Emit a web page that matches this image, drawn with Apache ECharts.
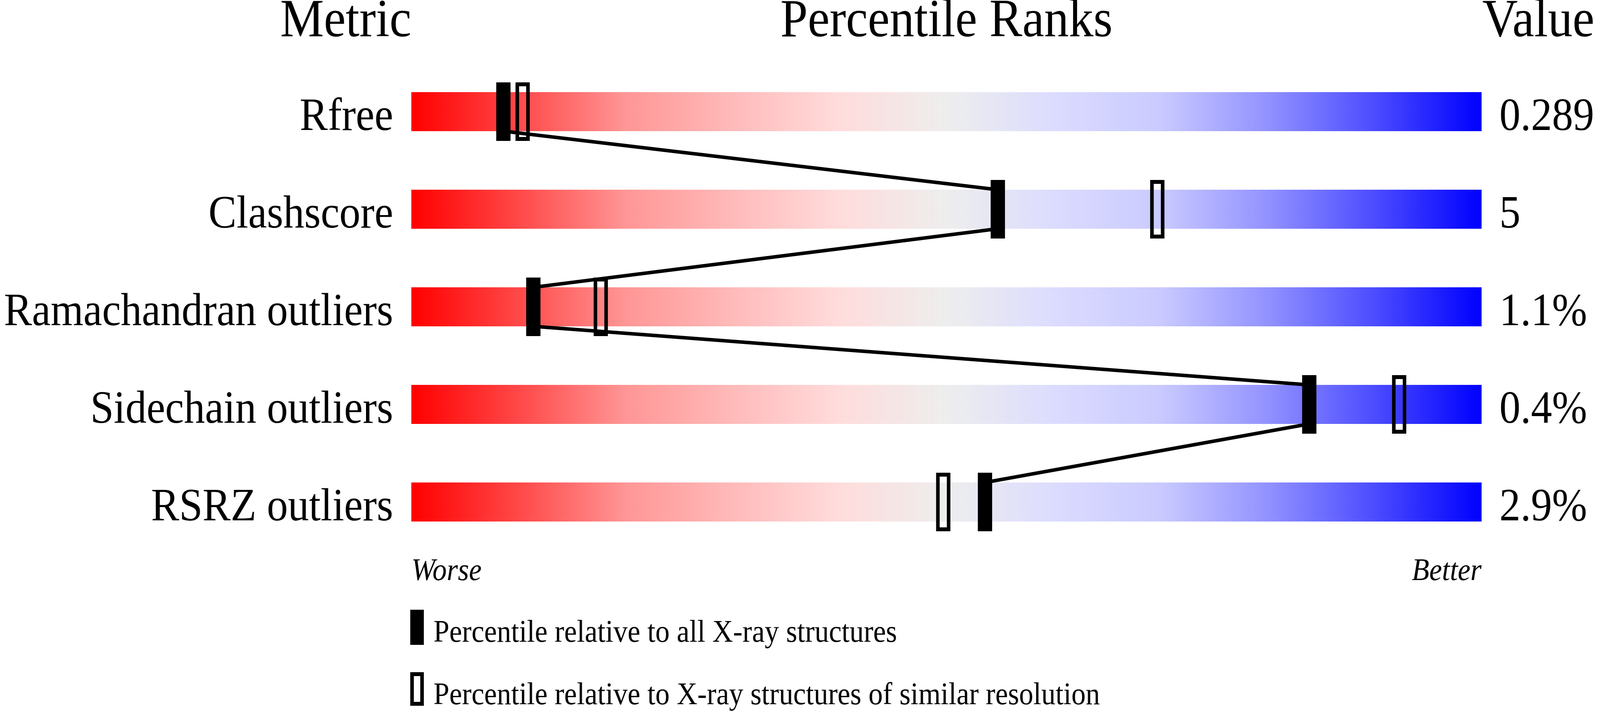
<!DOCTYPE html>
<html>
<head>
<meta charset="utf-8">
<title>Percentile Ranks</title>
<script src="https://cdn.jsdelivr.net/npm/echarts@6/dist/echarts.min.js"></script>
<style>
    html, body { margin: 0; padding: 0; background: #fff; overflow: hidden; }
    #chart { width: 4485px; height: 1824px; transform-origin: 0 0; }
</style>
</head>
<body>
<div id="chart"></div>
<script>
// 指标名称与右侧数值
const metrics = ['Rfree', 'Clashscore', 'Ramachandran outliers', 'Sidechain outliers', 'RSRZ outliers'];
const metricValues = ['0.289', '5', '1.1%', '0.4%', '2.9%'];

// 百分位：相对所有 X-ray 结构（实心）和相近分辨率结构（空心）
const pctAll = [8.6, 54.8, 11.4, 83.9, 53.6];
const pctSimilar = [10.4, 69.7, 17.7, 92.3, 49.7];

// 色带满刻度
const fullScale = [100, 100, 100, 100, 100];

const FONT = "'Liberation Serif', 'Times New Roman', serif";

// 按 4485x1824 布局，再整体缩放到实际窗口
const container = document.getElementById('chart');
function fitWindow() {
    const kx = window.innerWidth / 4485;
    const ky = window.innerHeight / 1824;
    container.style.transform = 'scale(' + kx + ',' + ky + ')';
}
fitWindow();

const chart = echarts.init(container, null, { width: 4485, height: 1824 });

// 色带渐变（红 -> 灰 -> 蓝）
const gradient = new echarts.graphic.LinearGradient(0, 0, 1, 0, [
    { offset: 0.0, color: '#ff0000' },
    { offset: 0.1, color: '#ff4848' },
    { offset: 0.2, color: '#ff9696' },
    { offset: 0.3, color: '#ffbaba' },
    { offset: 0.4, color: '#ffdcdc' },
    { offset: 0.5, color: '#eeeeee' },
    { offset: 0.6, color: '#dcdcff' },
    { offset: 0.7, color: '#cacaff' },
    { offset: 0.8, color: '#9292ff' },
    { offset: 0.9, color: '#4c4cff' },
    { offset: 1.0, color: '#0000ff' }
]);

// 标记：实心或空心矩形
function markerRenderer(filled) {
    return function (params, api) {
        const p = api.coord([api.value(0), api.value(1)]);
        const band = api.size([0, 1])[1];
        const h = band * 0.6;
        const w = 40;
        if (filled) {
            return {
                type: 'rect',
                shape: { x: p[0] - w / 2, y: p[1] - h / 2, width: w, height: h },
                style: { fill: '#000' }
            };
        }
        return {
            type: 'rect',
            shape: { x: p[0] - w / 2 + 5, y: p[1] - h / 2 + 5, width: w - 10, height: h - 10 },
            style: { fill: 'none', stroke: '#000', lineWidth: 10 }
        };
    };
}

// 连线：从上一行色带底边到下一行色带顶边
function linkRenderer(params, api) {
    const band = api.size([0, 1])[1];
    const half = band * 0.2;
    const a = api.coord([api.value(0), api.value(1)]);
    const b = api.coord([api.value(2), api.value(3)]);
    return {
        type: 'line',
        shape: { x1: a[0], y1: a[1] + half, x2: b[0], y2: b[1] - half },
        style: { stroke: '#000', lineWidth: 9 }
    };
}

const linkData = [];
for (let i = 0; i < metrics.length - 1; i++) {
    linkData.push([pctAll[i], i, pctAll[i + 1], i + 1]);
}

// 轴标签：用富文本上内边距把文字压到色带底边
function axisLabelStyle(margin) {
    return {
        margin: margin,
        verticalAlign: 'middle',
        formatter: v => '{t|' + v + '}',
        rich: {
            t: {
                fontFamily: FONT,
                fontSize: 118,
                color: '#000',
                padding: [32, 0, 0, 0]
            }
        }
    };
}

function textEl(text, x, y, size, align, italic) {
    return {
        type: 'text',
        x: x,
        y: y,
        style: {
            text: text,
            font: (italic ? 'italic ' : '') + size + 'px ' + FONT,
            fill: '#000',
            textAlign: align,
            textVerticalAlign: 'middle'
        }
    };
}

const option = {
    animation: false,
    backgroundColor: '#fff',
    grid: { left: 1153, right: 332, top: 161, bottom: 413 },
    xAxis: { type: 'value', min: 0, max: 100, show: false },
    yAxis: [
        {
            type: 'category',
            data: metrics,
            inverse: true,
            axisLine: { show: false },
            axisTick: { show: false },
            splitLine: { show: false },
            axisLabel: axisLabelStyle(51)
        },
        {
            type: 'category',
            data: metricValues,
            inverse: true,
            position: 'right',
            axisLine: { show: false },
            axisTick: { show: false },
            splitLine: { show: false },
            axisLabel: axisLabelStyle(50)
        }
    ],
    series: [
        {
            type: 'bar',
            data: fullScale,
            barWidth: '40%',
            silent: true,
            itemStyle: { color: gradient },
            z: 1
        },
        {
            type: 'custom',
            name: 'links',
            renderItem: linkRenderer,
            data: linkData,
            silent: true,
            z: 2
        },
        {
            type: 'custom',
            name: 'Percentile relative to all X-ray structures',
            renderItem: markerRenderer(true),
            data: pctAll.map((v, i) => [v, i]),
            silent: true,
            z: 3
        },
        {
            type: 'custom',
            name: 'Percentile relative to X-ray structures of similar resolution',
            renderItem: markerRenderer(false),
            data: pctSimilar.map((v, i) => [v, i]),
            silent: true,
            z: 3
        }
    ],
    graphic: [
        // 表头
        textEl('Metric', 1153, 57, 138, 'right'),
        textEl('Percentile Ranks', 2653, 57, 138, 'center'),
        textEl('Value', 4155, 57, 138, 'left'),
        // 两端说明
        textEl('Worse', 1153, 1465, 80, 'left', true),
        textEl('Better', 4153, 1465, 80, 'right', true),
        // 图例
        { type: 'rect', shape: { x: 1150, y: 1562, width: 38, height: 90 }, style: { fill: '#000' } },
        textEl('Percentile relative to all X-ray structures', 1215, 1623, 80, 'left'),
        { type: 'rect', shape: { x: 1155, y: 1727, width: 28, height: 76 }, style: { fill: 'none', stroke: '#000', lineWidth: 10 } },
        textEl('Percentile relative to X-ray structures of similar resolution', 1215, 1783, 80, 'left')
    ]
};

chart.setOption(option);

window.addEventListener('resize', function () {
    fitWindow();
});
</script>
</body>
</html>
